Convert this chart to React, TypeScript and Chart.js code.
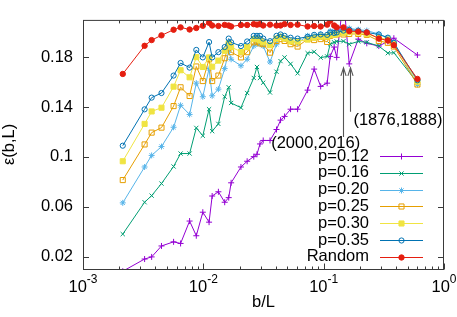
import React, { useEffect, useRef } from 'react';
import { Chart, registerables } from 'chart.js';
import { drawPoint } from 'chart.js/helpers';

Chart.register(...registerables);

// ---------- data ----------
const bL = [0.00214, 0.00325, 0.00372, 0.00449, 0.00566, 0.00647, 0.00769, 0.00874, 0.0099, 0.01116,
  0.01184, 0.01334, 0.01505, 0.01625, 0.01702, 0.02054, 0.02313, 0.02625, 0.02791, 0.02956,
  0.03145, 0.03582, 0.04056, 0.04382, 0.04732, 0.05309, 0.06072, 0.07356, 0.08334, 0.09441,
  0.1069, 0.1133, 0.1223, 0.1283, 0.146, 0.1631, 0.1939, 0.2282, 0.2873, 0.3415, 0.3831, 0.6013];

const eps012 = [0.0082, 0.0180, 0.0197, 0.0285, 0.0318, 0.0305, 0.0485, 0.0367, 0.0556, 0.0476,
  0.0686, 0.0720, 0.0636, 0.0673, 0.0792, 0.0919, 0.0965, 0.1002, 0.1021, 0.1104,
  0.1132, 0.1132, 0.1220, 0.1295, 0.1325, 0.1383, 0.1383, 0.1536, 0.1705, 0.1566,
  0.1592, 0.1807, 0.1882, 0.1799, 0.2280, 0.1747, 0.1946, 0.1912, 0.1890, 0.1927, 0.1953, 0.1818];

const eps016 = [0.0380, 0.0636, 0.0689, 0.0786, 0.0923, 0.1027, 0.1027, 0.1233, 0.1170, 0.1383,
  0.1207, 0.1265, 0.1483, 0.1559, 0.1433, 0.1395, 0.1513, 0.1634, 0.1722, 0.1634,
  0.1596, 0.1517, 0.1684, 0.1769, 0.1799, 0.1747, 0.1671, 0.1833, 0.1844, 0.1797,
  0.1807, 0.1905, 0.1920, 0.1927, 0.1929, 0.1905, 0.1927, 0.1920, 0.1890, 0.1833, 0.1837, 0.1596];

const eps020 = [0.0631, 0.0919, 0.1012, 0.1083, 0.1238, 0.1414, 0.1341, 0.1592, 0.1483, 0.1709,
  0.1491, 0.1544, 0.1709, 0.1852, 0.1784, 0.1732, 0.1784, 0.1890, 0.1908, 0.1905,
  0.1890, 0.1762, 0.1905, 0.1968, 0.1950, 0.1931, 0.1916, 0.1972, 0.1972, 0.1983,
  0.1961, 0.2010, 0.2010, 0.2017, 0.2021, 0.2032, 0.2021, 0.2014, 0.1987, 0.1957, 0.1920, 0.1581];

const eps025 = [0.0814, 0.1100, 0.1195, 0.1235, 0.1408, 0.1559, 0.1489, 0.1726, 0.1609, 0.1784,
  0.1609, 0.1653, 0.1792, 0.1897, 0.1841, 0.1799, 0.1841, 0.1920, 0.1927, 0.1912,
  0.1905, 0.1837, 0.1931, 0.1946, 0.1931, 0.1905, 0.1886, 0.1946, 0.1938, 0.1946,
  0.1923, 0.1972, 0.1980, 0.1983, 0.1983, 0.1987, 0.1987, 0.1980, 0.1931, 0.1916, 0.1886, 0.1581];

const eps030 = [0.0965, 0.1265, 0.1365, 0.1395, 0.1564, 0.1696, 0.1639, 0.1801, 0.1722, 0.1799,
  0.1724, 0.1773, 0.1852, 0.1912, 0.1882, 0.1844, 0.1882, 0.1946, 0.1946, 0.1935,
  0.1920, 0.1897, 0.1950, 0.1965, 0.1950, 0.1927, 0.1927, 0.1942, 0.1957, 0.1965,
  0.1965, 0.1980, 0.1980, 0.1987, 0.1995, 0.2002, 0.1999, 0.1987, 0.1957, 0.1942, 0.1905, 0.1604];

const eps035 = [0.1090, 0.1382, 0.1476, 0.1513, 0.1653, 0.1754, 0.1717, 0.1859, 0.1799, 0.1922,
  0.1799, 0.1841, 0.1882, 0.1950, 0.1920, 0.1890, 0.1927, 0.1972, 0.1972, 0.1972,
  0.1950, 0.1929, 0.1972, 0.1983, 0.1972, 0.1957, 0.1950, 0.1965, 0.1980, 0.1983,
  0.1980, 0.1999, 0.1995, 0.1999, 0.2014, 0.2021, 0.2014, 0.1999, 0.1983, 0.1957, 0.1916, 0.1615];

const epsRandom = [0.1666, 0.1892, 0.1938, 0.1976, 0.2021, 0.2040, 0.2023, 0.2035, 0.2053, 0.2077,
  0.2055, 0.2051, 0.2060, 0.2055, 0.2047, 0.2059, 0.2059, 0.2066, 0.2062, 0.2066,
  0.2055, 0.2062, 0.2055, 0.2055, 0.2066, 0.2059, 0.2062, 0.2047, 0.2051, 0.2047,
  0.2062, 0.2093, 0.2055, 0.2040, 0.2040, 0.2010, 0.2006, 0.1999, 0.1950, 0.1935, 0.1897, 0.1626];

const seriesLabels = ['p=0.12', 'p=0.16', 'p=0.20', 'p=0.25', 'p=0.30', 'p=0.35', 'Random'];
const seriesValues = [eps012, eps016, eps020, eps025, eps030, eps035, epsRandom];

const yTicks = [0.02, 0.06, 0.1, 0.14, 0.18];
const yTickLabels = ['0.02', '0.06', '0.1', '0.14', '0.18'];
const xMajor = [0.001, 0.01, 0.1, 1];
const xTickBase = ['10', '10', '10', '10'];
const xTickExp = ['-3', '-2', '-1', '0'];

const annotX = [0.146, 0.1656];
const annotTipY = [0.1715, 0.1715];
const annotBaseY = [0.1160, 0.1363];
const annotText = ['(2000,2016)', '(1876,1888)'];
const annotTextX = [0.0858, 0.1768];
const annotTextY = [0.1107, 0.1295];

// ---------- styles ----------
const FAMILY = "'Liberation Sans', Arial, Helvetica, sans-serif";
const FS = 16.5;
const AXIS = '#3a3a3a';
const styles = [
  { color: '#9400d3', pointStyle: 'cross', radius: 3, fill: false },
  { color: '#009e73', pointStyle: 'crossRot', radius: 3, fill: false },
  { color: '#56b4e9', pointStyle: 'star', radius: 3, fill: false },
  { color: '#e69f00', pointStyle: 'rect', radius: 3.6, fill: false },
  { color: '#f0e442', pointStyle: 'rect', radius: 3.6, fill: true },
  { color: '#0072b2', pointStyle: 'circle', radius: 2.6, fill: false },
  { color: '#e51e10', pointStyle: 'circle', radius: 2.7, fill: true },
];

const gnuFrame = {
  id: 'gnuFrame',
  afterDatasetsDraw(chart: any) {
    const { ctx, chartArea: a, scales } = chart;
    const xs = scales.x;
    const ys = scales.y;
    ctx.save();
    // border
    ctx.strokeStyle = AXIS;
    ctx.lineWidth = 1;
    ctx.strokeRect(a.left + 0.5, a.top + 0.5, a.right - a.left - 1, a.bottom - a.top);
    const bottom = a.bottom + 0.5;
    const top = a.top + 0.5;
    // x ticks (major + minor), mirrored
    ctx.beginPath();
    for (let k = -3; k <= 0; k++) {
      for (let m = 1; m <= 9; m++) {
        const v = m * Math.pow(10, k);
        if (v > 1.0000001) break;
        const px = Math.round(xs.getPixelForValue(v)) + 0.5;
        const len = m === 1 ? 6 : 3;
        ctx.moveTo(px, bottom); ctx.lineTo(px, bottom - len);
        ctx.moveTo(px, top); ctx.lineTo(px, top + len);
      }
    }
    // y ticks, mirrored
    yTicks.forEach((v) => {
      const py = Math.round(ys.getPixelForValue(v)) + 0.5;
      ctx.moveTo(a.left, py); ctx.lineTo(a.left + 6, py);
      ctx.moveTo(a.right, py); ctx.lineTo(a.right - 6, py);
    });
    ctx.stroke();

    // x tick labels with superscript exponents
    ctx.fillStyle = '#000';
    ctx.textBaseline = 'alphabetic';
    ctx.textAlign = 'left';
    xMajor.forEach((v, i) => {
      const px = xs.getPixelForValue(v);
      ctx.font = `${FS}px ${FAMILY}`;
      const w1 = ctx.measureText(xTickBase[i]).width;
      ctx.font = `12px ${FAMILY}`;
      const w2 = ctx.measureText(xTickExp[i]).width;
      const x0 = px - (w1 + w2) / 2;
      ctx.font = `${FS}px ${FAMILY}`;
      ctx.fillText(xTickBase[i], x0, a.bottom + 23);
      ctx.font = `12px ${FAMILY}`;
      ctx.fillText(xTickExp[i], x0 + w1, a.bottom + 14);
    });

    // annotations
    ctx.strokeStyle = '#555';
    ctx.lineWidth = 1.1;
    annotX.forEach((v, i) => {
      const px = Math.round(xs.getPixelForValue(v)) + 0.5;
      const tip = ys.getPixelForValue(annotTipY[i]);
      const base = ys.getPixelForValue(annotBaseY[i]);
      ctx.beginPath();
      ctx.moveTo(px, base); ctx.lineTo(px, tip);
      ctx.moveTo(px - 2.6, tip + 8); ctx.lineTo(px, tip); ctx.lineTo(px + 2.6, tip + 8);
      ctx.stroke();
    });
    ctx.font = `${FS}px ${FAMILY}`;
    ctx.textBaseline = 'middle';
    annotText.forEach((t, i) => {
      ctx.textAlign = i === 0 ? 'center' : 'left';
      ctx.fillText(t, xs.getPixelForValue(annotTextX[i]), ys.getPixelForValue(annotTextY[i]));
    });

    // legend
    const legRight = 369;
    const lineX0 = 380;
    const lineX1 = 423;
    const y0 = 156;
    const dy = 16.8;
    chart.data.datasets.forEach((ds: any, i: number) => {
      const st = styles[i];
      const y = y0 + i * dy;
      ctx.fillStyle = '#000';
      ctx.textAlign = 'right';
      ctx.font = `${FS}px ${FAMILY}`;
      ctx.fillText(ds.label, legRight, y);
      ctx.strokeStyle = st.color;
      ctx.lineWidth = 1;
      ctx.beginPath();
      ctx.moveTo(lineX0, Math.round(y) + 0.5);
      ctx.lineTo(lineX1, Math.round(y) + 0.5);
      ctx.stroke();
      ctx.fillStyle = st.fill ? st.color : 'rgba(0,0,0,0)';
      drawPoint(ctx, { pointStyle: st.pointStyle as any, radius: st.radius, rotation: 0, borderWidth: 1 }, (lineX0 + lineX1) / 2, Math.round(y) + 0.5);
    });
    ctx.restore();
  },
};

export default function App() {
  const ref = useRef<HTMLCanvasElement>(null);
  useEffect(() => {
    const datasets = seriesLabels.map((label, i) => ({
      label,
      data: bL.map((x, j) => ({ x, y: seriesValues[i][j] })),
      borderColor: styles[i].color,
      backgroundColor: styles[i].fill ? styles[i].color : 'rgba(0,0,0,0)',
      pointStyle: styles[i].pointStyle,
      pointRadius: styles[i].radius,
      pointBorderWidth: 1,
      borderWidth: 1,
      fill: false,
      tension: 0,
      order: seriesLabels.length - i,
    }));
    const chart = new Chart(ref.current as HTMLCanvasElement, {
      type: 'line',
      data: { datasets } as any,
      options: {
        animation: false,
        responsive: false,
        devicePixelRatio: 1,
        events: [],
        layout: { padding: { top: 3, right: 13, left: 0, bottom: 0 } },
        plugins: { legend: { display: false }, tooltip: { enabled: false } },
        scales: {
          x: {
            type: 'logarithmic',
            position: 'bottom',
            min: 0.001,
            max: 1,
            grid: { display: false, drawTicks: false },
            border: { display: false },
            ticks: { display: false },
            title: { display: true, text: 'b/L', color: '#000', font: { family: FAMILY, size: FS }, padding: { top: 0, bottom: 5 } },
            afterFit: (s: any) => { s.height = 48; },
          },
          y: {
            type: 'linear',
            min: 0.01,
            max: 0.21,
            grid: { display: false, drawTicks: false },
            border: { display: false },
            ticks: {
              color: '#000',
              font: { family: FAMILY, size: FS },
              padding: 10,
              autoSkip: false,
              callback: (_v: any, i: number) => yTickLabels[i],
            },
            afterBuildTicks: (s: any) => { s.ticks = yTicks.map((v) => ({ value: v })); },
            title: { display: true, text: 'ε(b,L)', color: '#000', font: { family: FAMILY, size: FS }, padding: { top: 0, bottom: 0 } },
            afterFit: (s: any) => { s.width = 83; },
          },
        },
      } as any,
      plugins: [gnuFrame],
    });
    return () => chart.destroy();
  }, []);
  return (
    <div style={{ position: 'fixed', left: 0, top: 0, width: 457, height: 317, background: '#fff' }}>
      <canvas ref={ref} width={457} height={317} style={{ display: 'block', width: 457, height: 317 }} />
    </div>
  );
}
